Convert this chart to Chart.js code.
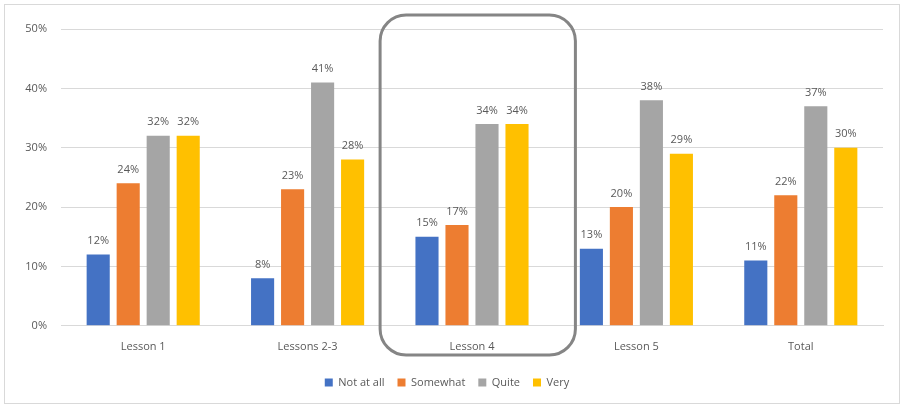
<!DOCTYPE html>
<html lang="en">
<head>
  <meta charset="UTF-8" />
  <title>Lesson responses</title>
  <script src="https://cdn.jsdelivr.net/npm/chart.js"></script>
  <style>
    body, html {
      margin: 0;
      padding: 0;
      background: #fff;
    }
    #wrap {
      position: absolute;
      left: 0;
      top: 0;
      width: 904px;
      height: 407px;
    }
  </style>
</head>
<body>
  <div id="wrap"><canvas id="chart" width="904" height="407"></canvas></div>

  <script>
    const lessons = ['Lesson 1', 'Lessons 2-3', 'Lesson 4', 'Lesson 5', 'Total'];
    const notAtAll = [12, 8, 15, 13, 11];
    const somewhat = [24, 23, 17, 20, 22];
    const quite = [32, 41, 34, 38, 37];
    const very = [32, 28, 34, 29, 30];
    const highlighted = 'Lesson 4';

    const labelFont = "'Open Sans', 'Liberation Sans', sans-serif";
    const textColor = '#595959';

    // percent labels above each bar
    const valueLabels = {
      id: 'valueLabels',
      afterDatasetsDraw(chart) {
        const ctx = chart.ctx;
        ctx.save();
        ctx.font = '11px ' + labelFont;
        ctx.fillStyle = textColor;
        ctx.textAlign = 'center';
        ctx.textBaseline = 'bottom';
        chart.data.datasets.forEach((ds, i) => {
          chart.getDatasetMeta(i).data.forEach((bar, j) => {
            ctx.fillText(ds.data[j] + '%', bar.x, bar.y - 8);
          });
        });
        ctx.restore();
      }
    };

    // rounded frame around one category, plus the outer chart border
    const frames = {
      id: 'frames',
      afterDraw(chart) {
        const ctx = chart.ctx;
        const x = chart.scales.x;
        const idx = lessons.indexOf(highlighted);
        const step = x.getPixelForValue(1) - x.getPixelForValue(0);
        const cx = x.getPixelForValue(idx) + step * 0.035;
        const half = step * 0.594;
        ctx.save();
        ctx.strokeStyle = '#d9d9d9';
        ctx.lineWidth = 1;
        ctx.strokeRect(4.5, 4.5, 895, 399);
        ctx.strokeStyle = '#858585';
        ctx.lineWidth = 3;
        ctx.beginPath();
        ctx.roundRect(cx - half, 15, half * 2, 340, 26);
        ctx.stroke();
        ctx.restore();
      }
    };

    const series = [
      { label: 'Not at all', data: notAtAll, color: '#4472C4' },
      { label: 'Somewhat', data: somewhat, color: '#ED7D31' },
      { label: 'Quite', data: quite, color: '#A5A5A5' },
      { label: 'Very', data: very, color: '#FFC000' }
    ];

    new Chart(document.getElementById('chart'), {
      type: 'bar',
      data: {
        labels: lessons,
        datasets: series.map(s => ({
          label: s.label,
          data: s.data,
          backgroundColor: s.color,
          categoryPercentage: 0.73,
          barPercentage: 0.77
        }))
      },
      options: {
        responsive: false,
        animation: false,
        layout: { padding: { left: 11, right: 21, top: 29, bottom: 9 } },
        plugins: {
          legend: {
            position: 'bottom',
            labels: {
              boxWidth: 8,
              boxHeight: 8,
              padding: 13,
              color: textColor,
              font: { family: labelFont, size: 11 }
            }
          },
          tooltip: { enabled: false }
        },
        scales: {
          y: {
            min: 0,
            max: 50,
            ticks: {
              stepSize: 10,
              color: textColor,
              font: { family: labelFont, size: 11 },
              callback: v => v + '%',
              padding: 14
            },
            grid: { color: '#d9d9d9', drawTicks: false },
            border: { display: false },
            afterFit(scale) { scale.width = 50; }
          },
          x: {
            ticks: {
              color: textColor,
              font: { family: labelFont, size: 11 },
              padding: 6
            },
            grid: { display: false },
            border: { color: '#d9d9d9' },
            afterFit(scale) { scale.height += 5; }
          }
        }
      },
      plugins: [valueLabels, frames]
    });
  </script>
</body>
</html>
